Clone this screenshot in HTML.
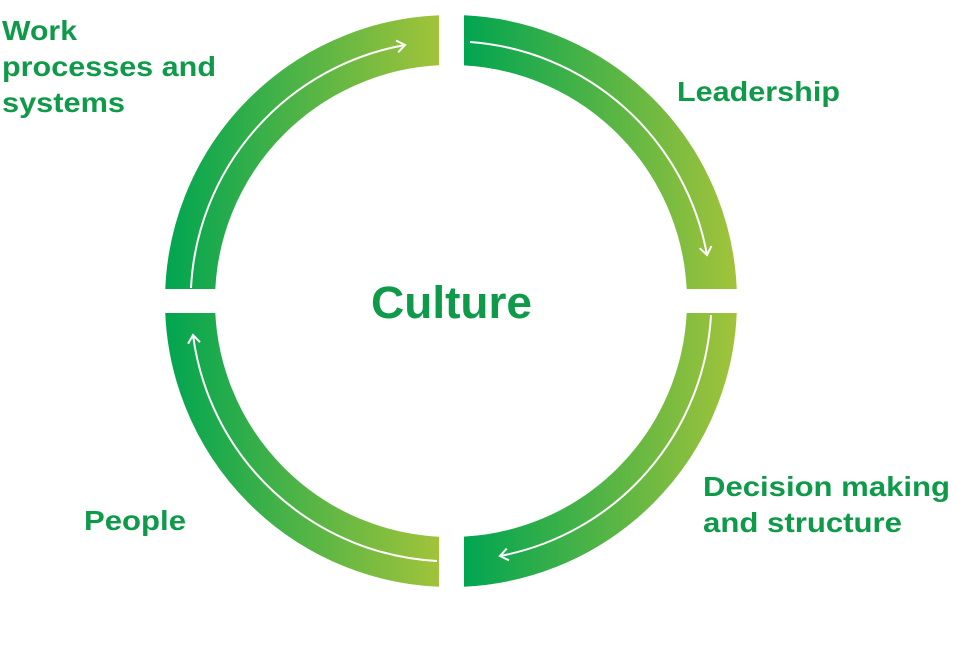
<!DOCTYPE html>
<html><head><meta charset="utf-8"><style>
html,body{margin:0;padding:0;background:#fff;}
svg{display:block;}
text{font-family:"Liberation Sans",Arial,sans-serif;font-weight:bold;fill:#0f9a4a;}
</style></head><body>
<svg width="967" height="651" viewBox="0 0 967 651" xmlns="http://www.w3.org/2000/svg">
<defs>
<linearGradient id="gl" gradientUnits="userSpaceOnUse" x1="165" y1="0" x2="440" y2="0"><stop offset="0" stop-color="#00a551"/><stop offset="1" stop-color="#a2c33a"/></linearGradient>
<linearGradient id="gr" gradientUnits="userSpaceOnUse" x1="463" y1="0" x2="737" y2="0"><stop offset="0" stop-color="#00a551"/><stop offset="1" stop-color="#a2c33a"/></linearGradient>
<clipPath id="cl"><rect x="0" y="0" width="439" height="651"/></clipPath>
<clipPath id="cr"><rect x="464" y="0" width="503" height="651"/></clipPath>
<marker id="ah" markerWidth="14" markerHeight="14" refX="10" refY="7" orient="auto" markerUnits="userSpaceOnUse">
<path d="M2,1 L10,7 L2,13" fill="none" stroke="#fff" stroke-width="2"/></marker>
</defs>
<circle cx="451" cy="301" r="261" fill="none" stroke="url(#gl)" stroke-width="50" clip-path="url(#cl)"/>
<circle cx="451" cy="301" r="261" fill="none" stroke="url(#gr)" stroke-width="50" clip-path="url(#cr)"/>
<rect x="150" y="289" width="600" height="24" fill="#fff"/>
<g fill="none" stroke="#fff" stroke-width="2">
<path d="M191 288 A260 260 0 0 1 405 45" marker-end="url(#ah)"/>
<path d="M470 42 A260 260 0 0 1 707 255" marker-end="url(#ah)"/>
<path d="M711 315 A260 260 0 0 1 500 556" marker-end="url(#ah)"/>
<path d="M437 561 A260 260 0 0 1 193 335" marker-end="url(#ah)"/>
</g>
<text x="371" y="318" font-size="45" textLength="161" lengthAdjust="spacingAndGlyphs">Culture</text>
<text font-size="28"><tspan x="2" y="40" textLength="75" lengthAdjust="spacingAndGlyphs">Work</tspan></text>
<text font-size="28"><tspan x="2" y="76" textLength="214" lengthAdjust="spacingAndGlyphs">processes and</tspan></text>
<text font-size="28"><tspan x="2" y="112" textLength="123" lengthAdjust="spacingAndGlyphs">systems</tspan></text>
<text x="677" y="101" font-size="28" textLength="163" lengthAdjust="spacingAndGlyphs">Leadership</text>
<text x="703" y="496" font-size="28" textLength="247" lengthAdjust="spacingAndGlyphs">Decision making</text>
<text x="703" y="532" font-size="28" textLength="199" lengthAdjust="spacingAndGlyphs">and structure</text>
<text x="84" y="530" font-size="28" textLength="102" lengthAdjust="spacingAndGlyphs">People</text>
</svg>
</body></html>
